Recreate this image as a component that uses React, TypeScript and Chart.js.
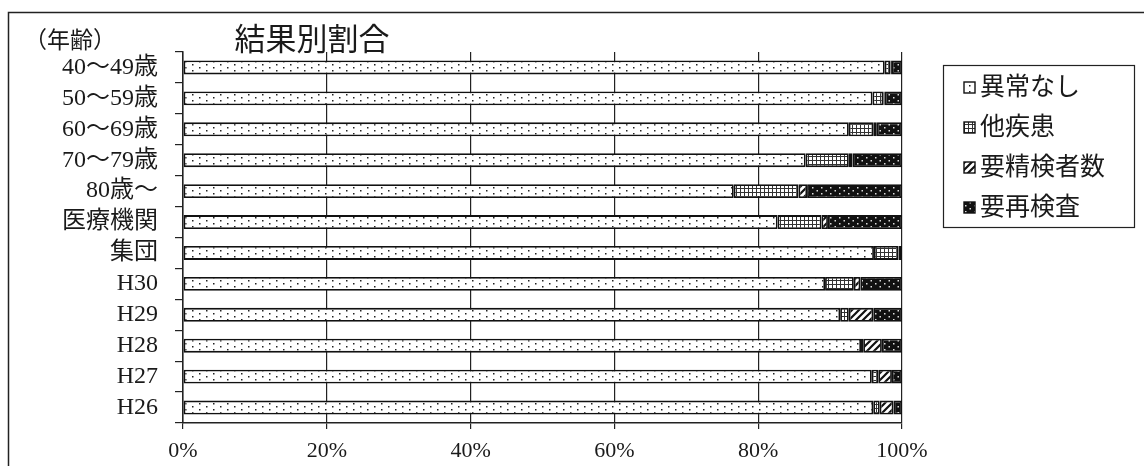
import React, { useEffect, useRef } from 'react';
import { Chart, registerables } from 'chart.js';

Chart.register(...registerables);

const categories = ['40～49歳', '50～59歳', '60～69歳', '70～79歳', '80歳～', '医療機関', '集団', 'H30', 'H29', 'H28', 'H27', 'H26'];
const seriesNames = ['異常なし', '他疾患', '要精検者数', '要再検査'];
const normal = [97.6, 95.9, 92.6, 86.6, 76.6, 82.7, 96.1, 89.3, 91.4, 94.3, 95.8, 96.0];
const otherDisease = [0.8, 1.5, 3.4, 6.0, 9.0, 6.1, 3.4, 4.0, 1.2, 0.3, 0.9, 0.9];
const detailedExam = [0.2, 0.2, 0.5, 0.5, 1.2, 0.9, 0.0, 0.9, 3.4, 2.6, 1.9, 1.9];
const reExam = [1.4, 2.4, 3.5, 6.9, 13.2, 10.3, 0.5, 5.8, 4.0, 2.8, 1.4, 1.2];
const xTickValues = [0, 20, 40, 60, 80, 100];
const titleText = '結果別割合';
const axisTitleText = '（年齢）';

const SERIF = '"Liberation Serif", "Noto Sans CJK JP", serif';
const INK = '#1a1a1a';

type Kind = 'dots' | 'grid' | 'hatch' | 'dark';
const patternKinds: Kind[] = ['dots', 'grid', 'hatch', 'dark'];

function makePattern(ctx: CanvasRenderingContext2D, kind: Kind): CanvasPattern | string {
  const c = document.createElement('canvas');
  const p = c.getContext('2d')!;
  if (kind === 'dots') {
    c.width = 14; c.height = 6;
    p.fillStyle = '#fff'; p.fillRect(0, 0, 14, 6);
    p.fillStyle = '#222';
    p.fillRect(3, 1, 1.5, 1.5);
    p.fillRect(10, 4, 1.5, 1.5);
  } else if (kind === 'grid') {
    c.width = 4; c.height = 4;
    p.fillStyle = '#fff'; p.fillRect(0, 0, 4, 4);
    p.fillStyle = '#333';
    p.fillRect(0, 0, 4, 1);
    p.fillRect(0, 0, 1, 4);
  } else if (kind === 'hatch') {
    c.width = 7; c.height = 7;
    p.fillStyle = '#fff'; p.fillRect(0, 0, 7, 7);
    p.strokeStyle = '#111';
    p.lineWidth = 2.2;
    p.beginPath();
    p.moveTo(-1, 8); p.lineTo(8, -1);
    p.moveTo(-4, 4); p.lineTo(4, -4);
    p.moveTo(3, 11); p.lineTo(11, 3);
    p.stroke();
  } else {
    c.width = 9; c.height = 6;
    p.fillStyle = '#111'; p.fillRect(0, 0, 9, 6);
    p.fillStyle = '#ddd';
    p.fillRect(2, 1, 1.5, 1.5);
    p.fillRect(6.5, 4, 1.5, 1.5);
  }
  return ctx.createPattern(c, 'repeat') || '#fff';
}

export default function App() {
  const canvasRef = useRef<HTMLCanvasElement | null>(null);

  useEffect(() => {
    const canvas = canvasRef.current;
    if (!canvas) return;
    const ctx = canvas.getContext('2d')!;
    const patterns = patternKinds.map((k) => makePattern(ctx, k));
    const values = [normal, otherDisease, detailedExam, reExam];

    const decorations = {
      id: 'decorations',
      afterDraw(chart: any) {
        const c = chart.ctx as CanvasRenderingContext2D;
        c.save();
        // outer frame
        c.strokeStyle = '#222';
        c.lineWidth = 1.5;
        c.beginPath();
        c.moveTo(8.5, 470);
        c.lineTo(8.5, 12.5);
        c.lineTo(1150, 12.5);
        c.stroke();
        // title
        c.fillStyle = INK;
        c.font = `31px ${SERIF}`;
        c.textAlign = 'center';
        c.textBaseline = 'middle';
        c.fillText(titleText, 312, 42);
        // axis title
        c.font = `23px ${SERIF}`;
        c.textAlign = 'left';
        c.fillText(axisTitleText, 24, 42);
        // legend
        c.strokeStyle = '#222';
        c.lineWidth = 1.2;
        c.strokeRect(943.5, 65.5, 191, 162);
        c.font = `25px ${SERIF}`;
        c.textBaseline = 'middle';
        seriesNames.forEach((name, i) => {
          const y = 87 + i * 40;
          c.fillStyle = patterns[i] as any;
          c.fillRect(964, y - 5, 11, 11);
          c.strokeStyle = '#111';
          c.lineWidth = 1.4;
          c.strokeRect(964, y - 5, 11, 11);
          c.fillStyle = INK;
          c.fillText(name, 980, y + 1);
        });
        c.restore();
      },
    };

    const chart = new Chart(canvas, {
      type: 'bar',
      data: {
        labels: categories,
        datasets: seriesNames.map((name, i) => ({
          label: name,
          data: values[i],
          backgroundColor: patterns[i] as any,
          borderColor: '#111',
          borderWidth: 1.8,
          borderSkipped: false,
          barPercentage: 0.45,
          categoryPercentage: 1,
        })),
      },
      options: {
        indexAxis: 'y',
        responsive: false,
        animation: false,
        events: [],
        layout: { padding: { left: 0, top: 52, right: 242, bottom: 0 } },
        plugins: {
          legend: { display: false },
          tooltip: { enabled: false },
          title: { display: false },
        },
        scales: {
          x: {
            stacked: true,
            min: 0,
            max: 100,
            afterBuildTicks: (s: any) => {
              s.ticks = xTickValues.map((v) => ({ value: v }));
            },
            ticks: {
              callback: (v: any) => `${v}%`,
              font: { family: SERIF, size: 22 },
              color: INK,
              padding: 9,
              maxRotation: 0,
              autoSkip: false,
            },
            grid: { color: '#222', lineWidth: 1.2, tickLength: 6, drawOnChartArea: true },
            border: { color: '#222', width: 1.5 },
            afterFit: (s: any) => {
              s.height = 466 - 423;
            },
          },
          y: {
            stacked: true,
            ticks: {
              font: { family: SERIF, size: 24 },
              color: INK,
              padding: 17,
              autoSkip: false,
            },
            grid: { drawOnChartArea: false, tickLength: 8, color: '#222', lineWidth: 1.2, offset: true },
            border: { color: '#222', width: 1.5 },
            afterFit: (s: any) => {
              s.width = 183;
            },
          },
        },
      },
      plugins: [decorations],
    });
    return () => chart.destroy();
  }, []);

  return (
    <div style={{ position: 'absolute', left: 0, top: 0, width: 1144, height: 466, background: '#fff', overflow: 'hidden' }}>
      <canvas ref={canvasRef} width={1144} height={466} style={{ display: 'block' }} />
    </div>
  );
}
